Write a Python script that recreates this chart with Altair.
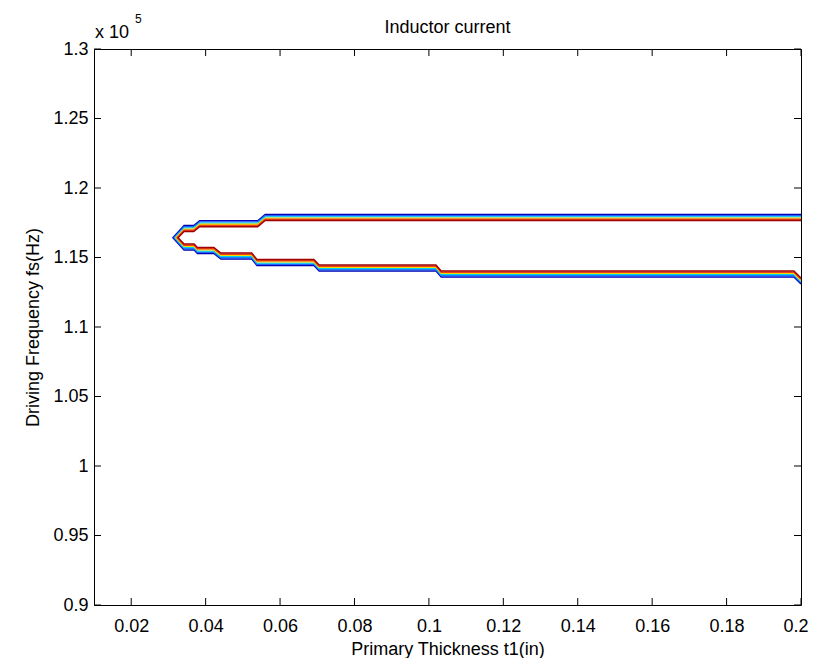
import altair as alt
import pandas as pd

# ---------------- data ----------------
x_tick_values = [0.02, 0.04, 0.06, 0.08, 0.1, 0.12, 0.14, 0.16, 0.18, 0.2]
y_tick_values = [90000, 95000, 100000, 105000, 110000, 115000, 120000, 125000, 130000]

contour_levels = ["c1", "c2", "c3", "c4", "c5", "c6"]

# contour path (upper branch right->left, tip, lower branch left->right)
path_x = [0.2, 0.0560, 0.0540, 0.0384, 0.0368, 0.0342, None,
          0.0342, 0.0369, 0.0378, 0.0422, 0.0441, 0.0524, 0.0538,
          0.0691, 0.0705, 0.1019, 0.1033, 0.1981, 0.2]
tip_x = [0.0312, 0.0315, 0.0318, 0.0320, 0.0323, 0.0326]

y_c1 = [118093, 118093, 117647, 117647, 117301, 117301, 116425,
        115540, 115540, 115289, 115289, 114893, 114893, 114425, 114425,
        114030, 114030, 113598, 113598, 113094]
y_c2 = [118007, 118007, 117561, 117561, 117215, 117215, 116425,
        115626, 115626, 115375, 115375, 114979, 114979, 114511, 114511,
        114116, 114116, 113684, 113684, 113180]
y_c3 = [117921, 117921, 117475, 117475, 117129, 117129, 116425,
        115712, 115712, 115461, 115461, 115065, 115065, 114597, 114597,
        114202, 114202, 113770, 113770, 113266]
y_c4 = [117835, 117835, 117389, 117389, 117043, 117043, 116425,
        115798, 115798, 115547, 115547, 115151, 115151, 114683, 114683,
        114288, 114288, 113856, 113856, 113352]
y_c5 = [117749, 117749, 117303, 117303, 116957, 116957, 116425,
        115884, 115884, 115633, 115633, 115237, 115237, 114769, 114769,
        114374, 114374, 113942, 113942, 113438]
y_c6 = [117663, 117663, 117217, 117217, 116871, 116871, 116425,
        115970, 115970, 115719, 115719, 115323, 115323, 114855, 114855,
        114460, 114460, 114028, 114028, 113524]

level_y = [y_c1, y_c2, y_c3, y_c4, y_c5, y_c6]

title_text = "Inductor current"
x_title = "Primary Thickness t1(in)"
y_title = "Driving Frequency fs(Hz)"

# ---------------- styles ----------------
level_colors = ["#0000B4", "#2060FF", "#00D0F0", "#F0DC00", "#F04014", "#A00000"]
FONT = "Liberation Sans"
W, H = 707, 556

rows = []
for k, name in enumerate(contour_levels):
    for i, xv in enumerate(path_x):
        rows.append({"level": name, "step": i,
                     "x": tip_x[k] if xv is None else xv,
                     "y": level_y[k][i]})
df = pd.DataFrame(rows)

xscale = alt.Scale(domain=[0.01, 0.2], nice=False, zero=False)
yscale = alt.Scale(domain=[90000, 130000], nice=False, zero=False)

xaxis = alt.Axis(values=x_tick_values, format="~g", ticks=False, domain=False, grid=False,
                 labelFont=FONT, labelFontSize=18, labelColor="black", labelPadding=12,
                 labelFlush=True, labelFlushOffset=7, labelOverlap=False,
                 title=x_title, titleFont=FONT, titleFontSize=18,
                 titleFontWeight="normal", titleColor="black", titlePadding=5)
yaxis = alt.Axis(values=y_tick_values, labelExpr="format(datum.value / 100000, '~g')",
                 ticks=False, domain=False, grid=False,
                 labelFont=FONT, labelFontSize=18, labelColor="black", labelPadding=6,
                 labelFlush=False, labelOverlap=False,
                 title=y_title, titleFont=FONT, titleFontSize=18,
                 titleFontWeight="normal", titleColor="black", titlePadding=10)

lines = alt.Chart(df).mark_line(strokeWidth=1.4, clip=True).encode(
    x=alt.X("x:Q", scale=xscale, axis=xaxis),
    y=alt.Y("y:Q", scale=yscale, axis=yaxis),
    color=alt.Color("level:N", scale=alt.Scale(domain=contour_levels, range=level_colors), legend=None),
    detail="level:N",
    order="step:Q",
)

xt = pd.DataFrame({"x": x_tick_values})
yt = pd.DataFrame({"y": y_tick_values})

tick_b = alt.Chart(xt).mark_rule(color="black", strokeWidth=1).encode(
    x=alt.X("x:Q", scale=xscale, axis=xaxis), y=alt.value(H), y2=alt.value(H - 7))
tick_t = alt.Chart(xt).mark_rule(color="black", strokeWidth=1).encode(
    x=alt.X("x:Q", scale=xscale, axis=xaxis), y=alt.value(0), y2=alt.value(7))
tick_l = alt.Chart(yt).mark_rule(color="black", strokeWidth=1).encode(
    y=alt.Y("y:Q", scale=yscale, axis=yaxis), x=alt.value(0), x2=alt.value(7))
tick_r = alt.Chart(yt).mark_rule(color="black", strokeWidth=1).encode(
    y=alt.Y("y:Q", scale=yscale, axis=yaxis), x=alt.value(W), x2=alt.value(W - 7))

exp_base = alt.Chart(pd.DataFrame({"t": ["x 10"]})).mark_text(
    align="left", baseline="alphabetic", font=FONT, fontSize=18, color="black").encode(
    x=alt.value(1), y=alt.value(-11), text="t:N")
exp_pow = alt.Chart(pd.DataFrame({"t": ["5"]})).mark_text(
    align="left", baseline="alphabetic", font=FONT, fontSize=12, color="black").encode(
    x=alt.value(41), y=alt.value(-26), text="t:N")
title_mark = alt.Chart(pd.DataFrame({"t": [title_text]})).mark_text(
    align="center", baseline="alphabetic", font=FONT, fontSize=18, color="black").encode(
    x=alt.value(W / 2), y=alt.value(-16), text="t:N")

chart = alt.layer(lines, tick_b, tick_t, tick_l, tick_r, exp_base, exp_pow, title_mark).properties(
    width=W, height=H,
    background="white",
    autosize=alt.AutoSizeParams(type="none"),
    padding={"left": 86, "top": 41, "right": 8, "bottom": 53},
).configure_view(stroke="black", strokeWidth=1)

chart.save("out.html", embed_options={"renderer": "svg", "actions": False})
